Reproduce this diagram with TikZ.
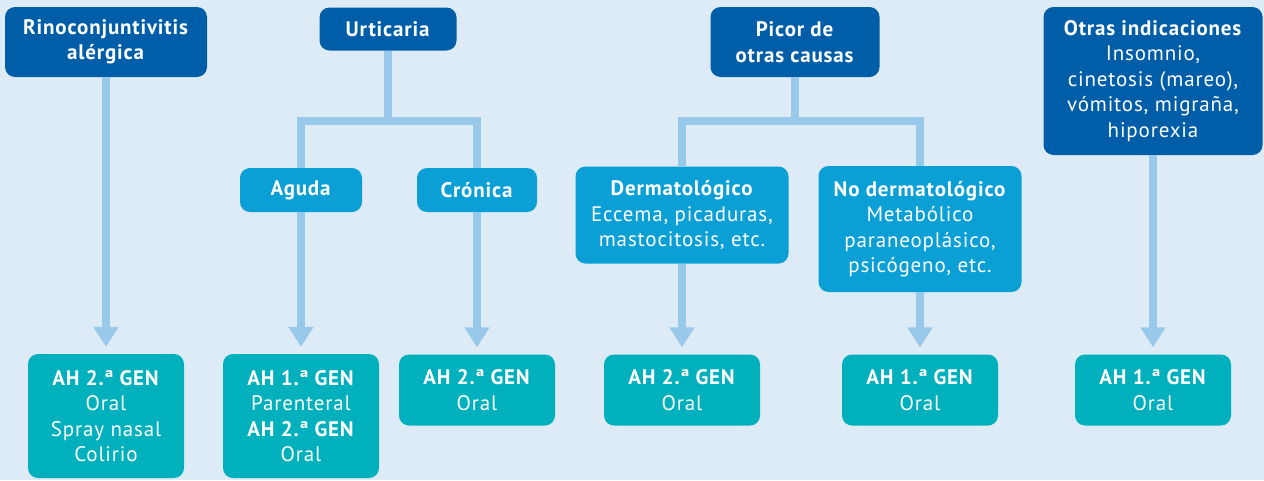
\documentclass[tikz,border=0pt]{standalone}
\usepackage{fontspec}
\setmainfont{PT Sans}[LetterSpace=4]
\usetikzlibrary{arrows.meta}

\definecolor{bgblue}{HTML}{DCEBF6}
\definecolor{darkbox}{HTML}{005EA8}
\definecolor{midbox}{HTML}{0AA0D6}
\definecolor{tealbox}{HTML}{00B1BD}
\definecolor{linkblue}{HTML}{98C9EA}

\begin{document}
\begin{tikzpicture}[x=1pt, y=-1pt,
    box/.style={rounded corners=10pt, text=white, align=center, inner sep=0pt,
                font=\fontsize{21}{25.5}\selectfont},
    dark/.style={box, fill=darkbox},
    mid/.style={box, fill=midbox},
    drug/.style={box, fill=tealbox, minimum width=156pt, minimum height=71pt},
    link/.style={draw=linkblue, line width=8pt},
    arrowlink/.style={link, -{Triangle[width=24pt, length=20pt]}, shorten >=7pt}
]

    % ==========================================
    % 0. CANVAS
    % ==========================================
    \fill[bgblue] (0,0) rectangle (1264,480);
    \useasboundingbox (0,0) rectangle (1264,480);

    % ==========================================
    % 1. TOP ROW (indications)
    % ==========================================
    \node[dark, minimum width=202pt, minimum height=70pt] (rino) at (106,42)
        {\textbf{Rinoconjuntivitis}\\\textbf{alérgica}};
    \node[dark, minimum width=137pt, minimum height=43pt] (urt) at (388,29)
        {\textbf{Urticaria}};
    \node[dark, minimum width=169pt, minimum height=70pt] (picor) at (795,42)
        {\textbf{Picor de}\\\textbf{otras causas}};
    \node[dark, minimum width=219pt, minimum height=148pt] (otras) at (1153,81)
        {\textbf{Otras indicaciones}\\Insomnio,\\cinetosis (mareo),\\vómitos, migraña,\\hiporexia};

    % ==========================================
    % 2. MIDDLE ROW (subtypes)
    % ==========================================
    \node[mid, minimum width=122pt, minimum height=44pt] (agu) at (301,190)
        {\textbf{Aguda}};
    \node[mid, minimum width=120pt, minimum height=44pt] (cro) at (477,190)
        {\textbf{Crónica}};
    \node[mid, minimum width=213pt, minimum height=97pt] (derm) at (682,215)
        {\textbf{Dermatológico}\\Eccema, picaduras,\\mastocitosis, etc.};
    \node[mid, minimum width=203pt, minimum height=126pt] (noderm) at (920,229)
        {\textbf{No dermatológico}\\Metabólico\\paraneoplásico,\\psicógeno, etc.};

    % ==========================================
    % 3. BOTTOM ROW (antihistamines)
    % ==========================================
    \node[drug, minimum height=124pt] (t1) at (106,416)
        {\textbf{AH 2.ª GEN}\\Oral\\Spray nasal\\Colirio};
    \node[drug, minimum height=124pt] (t2) at (301,416)
        {\textbf{AH 1.ª GEN}\\Parenteral\\\textbf{AH 2.ª GEN}\\Oral};
    \node[drug] (t3) at (477,390) {\textbf{AH 2.ª GEN}\\Oral};
    \node[drug] (t4) at (682,390) {\textbf{AH 2.ª GEN}\\Oral};
    \node[drug] (t5) at (920,390) {\textbf{AH 1.ª GEN}\\Oral};
    \node[drug] (t6) at (1153,390) {\textbf{AH 1.ª GEN}\\Oral};

    % ==========================================
    % 4. CONNECTORS
    % ==========================================
    \coordinate (ujoin) at (388,121);
    \coordinate (pjoin) at (795,121);

    % Branches
    \draw[link] (urt.south) -- (ujoin);
    \draw[link] (agu.north) |- (ujoin) -| (cro.north);
    \draw[link] (picor.south) -- (pjoin);
    \draw[link] (derm.north) |- (pjoin) -| (noderm.north);

    % Arrows down to the treatments
    \draw[arrowlink] (rino.south) -- (t1.north);
    \draw[arrowlink] (agu.south) -- (t2.north);
    \draw[arrowlink] (cro.south) -- (t3.north);
    \draw[arrowlink] (derm.south) -- (t4.north);
    \draw[arrowlink] (noderm.south) -- (t5.north);
    \draw[arrowlink] (otras.south) -- (t6.north);

\end{tikzpicture}
\end{document}
